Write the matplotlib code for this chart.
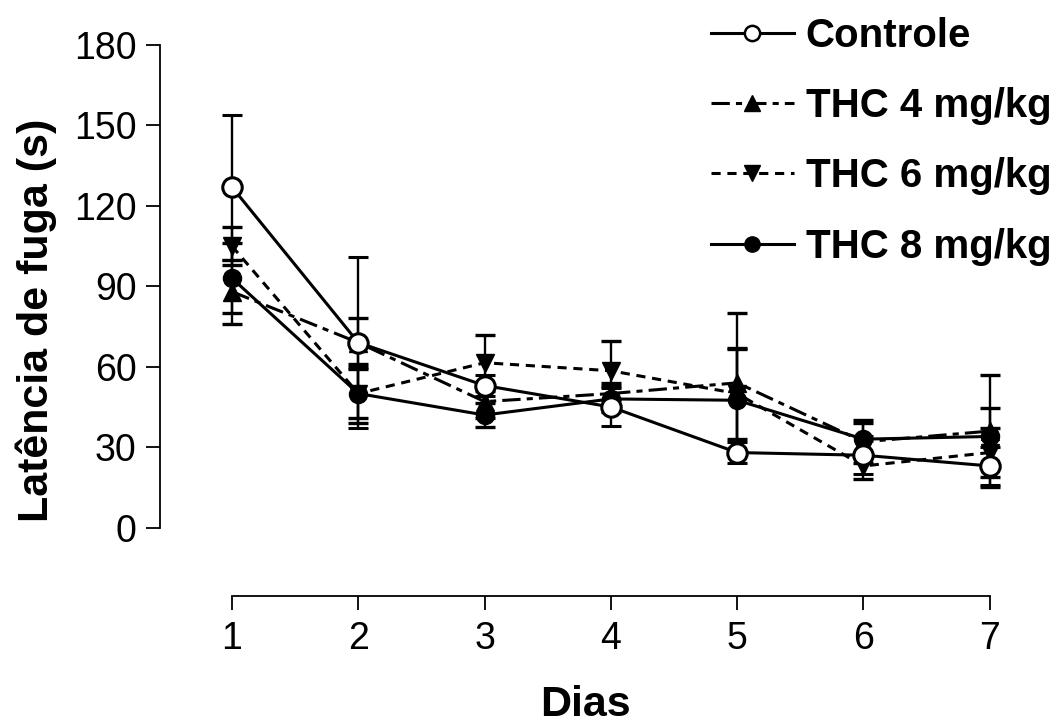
import matplotlib
matplotlib.use("Agg")
import matplotlib.pyplot as plt
from matplotlib.lines import Line2D

days = [1, 2, 3, 4, 5, 6, 7]
day_labels = ["1", "2", "3", "4", "5", "6", "7"]
y_ticks = [0, 30, 60, 90, 120, 150, 180]

controle = [127, 69, 53, 45, 28, 27, 23]
controle_err = [27, 32, 4, 7, 4, 7, 7]
thc4 = [88, 69, 47, 50, 54, 32, 36]
thc4_err = [12, 9, 6, 4, 26, 8, 21]
thc6 = [105, 50, 61.5, 58.5, 50, 23, 28]
thc6_err = [7, 11, 10.5, 11, 17, 5, 9]
thc8 = [93, 50, 42, 48, 47.5, 33, 34]
thc8_err = [13, 9, 4.5, 5, 19, 6, 10.5]

labels = ["Controle", "THC 4 mg/kg", "THC 6 mg/kg", "THC 8 mg/kg"]

plt.rcParams['font.family'] = ['Liberation Sans', 'DejaVu Sans']

fig = plt.figure(figsize=(10.62, 7.24), dpi=100)
ax = fig.add_axes([160/1062, 128/724, (1010-160)/1062, (679-128)/724])

lw = 2.2
ekw = dict(elinewidth=1.7, capsize=7, capthick=2.4)

series = [
    (thc6, thc6_err, dict(linestyle=(0, (3, 2.2)), marker='v', mfc='black', ms=13), 2),
    (thc4, thc4_err, dict(linestyle=(0, (6, 2, 2, 2)), marker='^', mfc='black', ms=13), 3),
    (thc8, thc8_err, dict(linestyle='-', marker='o', mfc='black', ms=13), 4),
    (controle, controle_err, dict(linestyle='-', marker='o', mfc='white', ms=14, mew=2.2), 5),
]
for vals, errs, style, z in series:
    ax.errorbar(days, vals, yerr=errs, color='black', ecolor='black', lw=lw, mec='black',
                zorder=z, clip_on=False, **style, **ekw)

ax.set_xlim(0.43, 7.16)
ax.set_ylim(-25.5, 180)
for s in ['top', 'right']:
    ax.spines[s].set_visible(False)
ax.spines['left'].set_bounds(0, 180)
ax.spines['bottom'].set_bounds(1, 7)
ax.spines['left'].set_linewidth(1.3)
ax.spines['bottom'].set_linewidth(1.3)
ax.set_yticks(y_ticks)
ax.set_xticks(days)
ax.set_xticklabels(day_labels)
ax.tick_params(axis='y', direction='out', length=10, width=1.3, pad=7, labelsize=27)
ax.tick_params(axis='x', direction='out', length=10, width=1.3, pad=8, labelsize=27)

ax.set_ylabel("Latência de fuga (s)", fontsize=31, fontweight='bold', labelpad=12)
ax.set_xlabel("Dias", fontsize=31, fontweight='bold', labelpad=20)

handles = [
    Line2D([], [], color='black', lw=2.2, linestyle='-', marker='o', mfc='white', mec='black', ms=11, mew=1.8),
    Line2D([], [], color='black', lw=2.2, linestyle=(0, (6, 2, 2, 2)), marker='^', mfc='black', mec='black', ms=11),
    Line2D([], [], color='black', lw=2.2, linestyle=(0, (3, 2.2)), marker='v', mfc='black', mec='black', ms=11),
    Line2D([], [], color='black', lw=2.2, linestyle='-', marker='o', mfc='black', mec='black', ms=11),
]
leg = fig.legend(handles, labels, loc='upper left', bbox_to_anchor=(711/1062, 1 - 17/724),
                 frameon=False, prop=dict(size=29, weight='bold'), handlelength=2.05,
                 handletextpad=0.3, labelspacing=0.8, borderpad=0, borderaxespad=0)

fig.savefig("out.png", dpi=100)
